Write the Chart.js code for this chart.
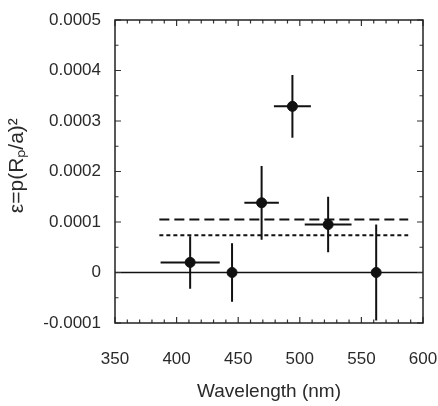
<!DOCTYPE html>
<html>
<head>
<meta charset="utf-8">
<script src="https://cdn.jsdelivr.net/npm/chart.js@4/dist/chart.umd.min.js"></script>
<style>
  html, body { margin: 0; padding: 0; background: #fff; }
  #wrap { width: 438px; height: 406px; position: relative; }
</style>
</head>
<body>
<div id="wrap"><canvas id="depthChart"></canvas></div>
<script>
// ── Data ─────────────────────────────────────────────────────────────────────
const wavelengths = [411, 445, 469, 494, 523, 562];          // nm
const depths      = [2.0e-5, 0, 1.38e-4, 3.29e-4, 0.95e-4, 0];
const wlErr       = [24, 0, 14, 15, 19, 0];                  // nm half-width
const depthErr    = [5.2e-5, 5.8e-5, 7.3e-5, 6.2e-5, 5.5e-5, 9.5e-5];

const dashedLevel = 1.05e-4;
const dottedLevel = 0.74e-4;
const levelRange  = [386, 588];                              // nm span of the two limits
const zeroRange   = [350, 600];

const xTickValues = [350, 400, 450, 500, 550, 600];
const yTickValues = [-0.0001, 0, 0.0001, 0.0002, 0.0003, 0.0004, 0.0005];

const INK  = '#111';
const TEXT = '#2a2a2a';
const FONT = "'Liberation Sans', Arial, sans-serif";

// ── Error bars + inward ticks + frame ───────────────────────────────────────
const frameAndErrors = {
  id: 'frameAndErrors',
  afterDatasetsDraw(chart) {
    const { ctx, chartArea: a, scales: { x, y } } = chart;
    ctx.save();

    // error bars
    ctx.strokeStyle = INK;
    ctx.lineWidth = 2;
    wavelengths.forEach((wl, i) => {
      const px = x.getPixelForValue(wl);
      const py = y.getPixelForValue(depths[i]);
      const yTop = Math.max(a.top, y.getPixelForValue(depths[i] + depthErr[i]));
      const yBot = Math.min(a.bottom, y.getPixelForValue(depths[i] - depthErr[i]));
      ctx.beginPath();
      ctx.moveTo(px, yTop); ctx.lineTo(px, yBot);
      if (wlErr[i] > 0) {
        ctx.moveTo(x.getPixelForValue(wl - wlErr[i]), py);
        ctx.lineTo(x.getPixelForValue(wl + wlErr[i]), py);
      }
      ctx.stroke();
    });

    // inward tick marks, all four sides
    ctx.strokeStyle = '#333';
    ctx.lineWidth = 1.2;
    ctx.beginPath();
    for (let v = x.min; v <= x.max + 1e-9; v += 10) {
      const px = x.getPixelForValue(v);
      const len = (Math.round(v) % 50 === 0) ? 6 : 3.5;
      ctx.moveTo(px, a.bottom); ctx.lineTo(px, a.bottom - len);
      ctx.moveTo(px, a.top);    ctx.lineTo(px, a.top + len);
    }
    for (let k = 0; k <= 12; k++) {
      const v = y.min + k * 0.00005;
      const py = y.getPixelForValue(v);
      const len = (k % 2 === 0) ? 6 : 3.5;
      ctx.moveTo(a.left, py);  ctx.lineTo(a.left + len, py);
      ctx.moveTo(a.right, py); ctx.lineTo(a.right - len, py);
    }
    ctx.stroke();

    // frame
    ctx.strokeStyle = '#222';
    ctx.lineWidth = 1.5;
    ctx.strokeRect(a.left, a.top, a.right - a.left, a.bottom - a.top);
    ctx.restore();
  },
};

const levelLine = (level, dash) => ({
  type: 'line',
  data: levelRange.map(wl => ({ x: wl, y: level })),
  borderColor: INK,
  borderWidth: 2,
  borderDash: dash,
  pointRadius: 0,
  fill: false,
});

new Chart(document.getElementById('depthChart'), {
  type: 'scatter',
  data: {
    datasets: [
      {
        type: 'line',
        data: zeroRange.map(wl => ({ x: wl, y: 0 })),
        borderColor: INK,
        borderWidth: 1.6,
        pointRadius: 0,
      },
      levelLine(dashedLevel, [10, 5]),
      levelLine(dottedLevel, [4, 3]),
      {
        data: wavelengths.map((wl, i) => ({ x: wl, y: depths[i] })),
        backgroundColor: INK,
        borderColor: INK,
        pointRadius: 5,
        pointStyle: 'circle',
      },
    ],
  },
  options: {
    responsive: true,
    maintainAspectRatio: false,
    animation: false,
    layout: { padding: { top: 20, right: 15, left: 0, bottom: 0 } },
    plugins: { legend: { display: false }, tooltip: { enabled: false } },
    scales: {
      x: {
        type: 'linear',
        min: 350, max: 600,
        afterBuildTicks(scale) { scale.ticks = xTickValues.map(v => ({ value: v })); },
        afterFit(scale) {
          scale.height = 83;
          scale.paddingLeft = 0;
          scale.paddingRight = 0;
        },
        grid: { display: false, drawTicks: false },
        border: { display: false },
        ticks: {
          color: TEXT,
          font: { family: FONT, size: 17 },
          padding: 26,
          maxRotation: 0,
        },
        title: {
          display: true,
          text: 'Wavelength (nm)',
          color: TEXT,
          font: { family: FONT, size: 19 },
          padding: { top: 0, bottom: 3 },
        },
      },
      y: {
        type: 'linear',
        min: -0.0001, max: 0.0005,
        afterBuildTicks(scale) { scale.ticks = yTickValues.map(v => ({ value: v })); },
        afterFit(scale) {
          scale.width = 115;
          scale.paddingTop = 0;
          scale.paddingBottom = 0;
        },
        grid: { display: false, drawTicks: false },
        border: { display: false },
        ticks: {
          color: TEXT,
          font: { family: FONT, size: 17 },
          padding: 14,
          callback: v => Number(v.toFixed(4)).toString(),
        },
        title: {
          display: true,
          text: '  ε=p(Rₚ/a)²',
          color: TEXT,
          font: { family: FONT, size: 21 },
          padding: { top: 5, bottom: 0 },
        },
      },
    },
  },
  plugins: [frameAndErrors],
});
</script>
</body>
</html>
